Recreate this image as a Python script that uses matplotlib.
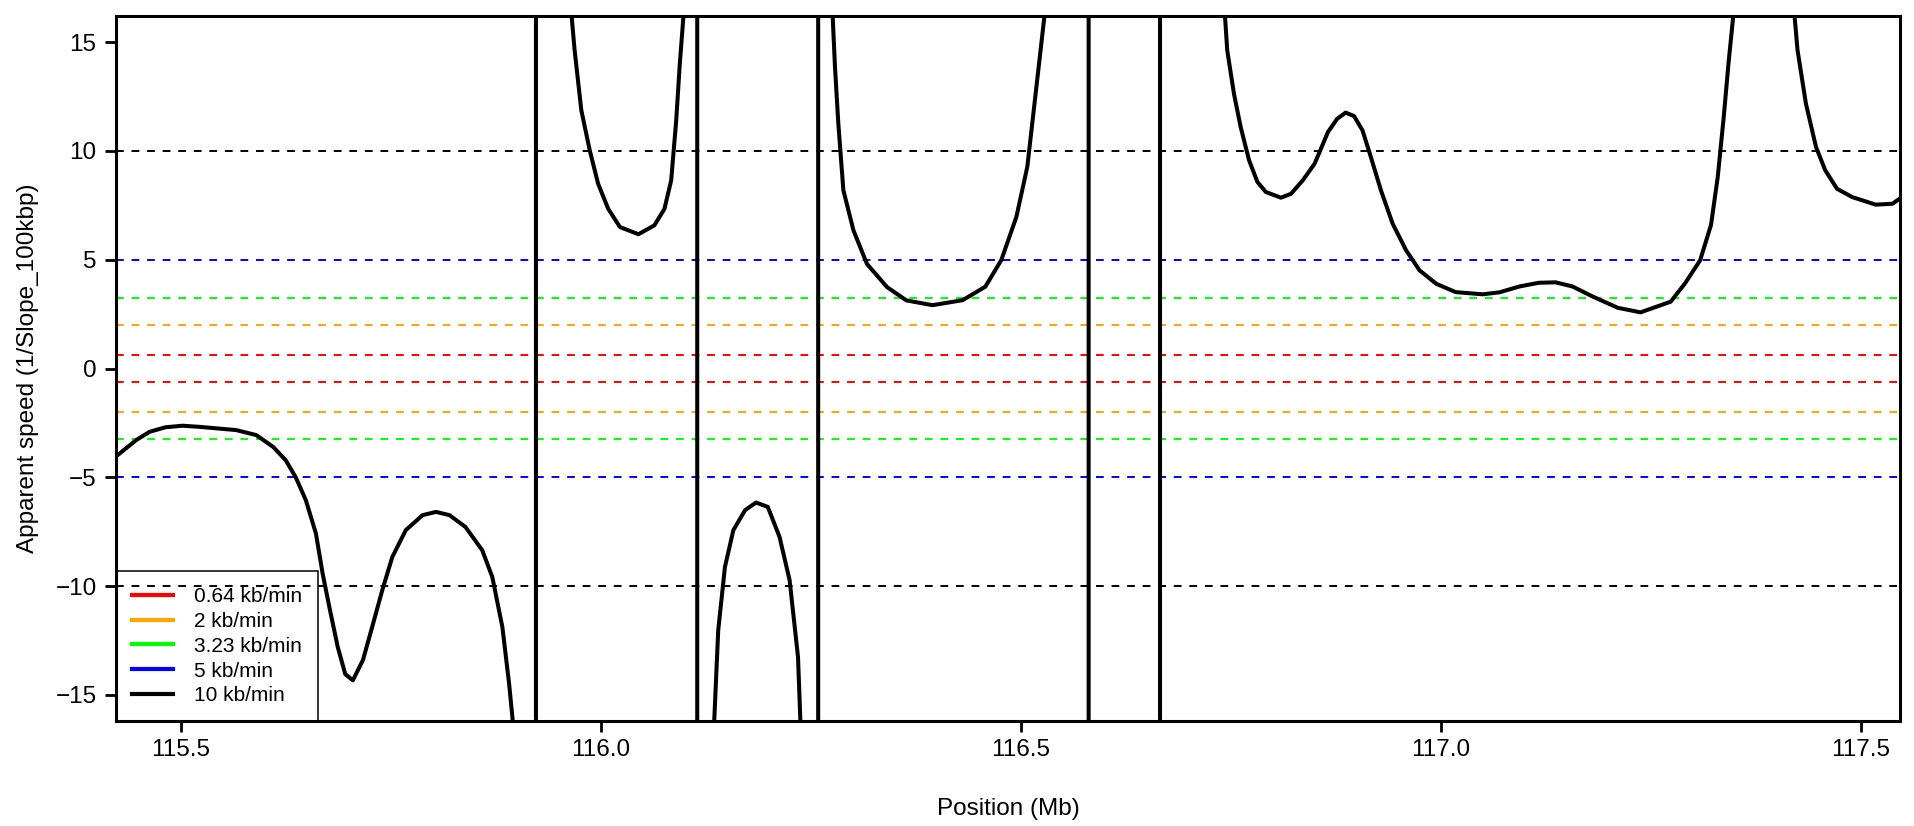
import numpy as np
import matplotlib
matplotlib.use("Agg")
import matplotlib.pyplot as plt

plt.rcParams["font.family"] = ["Liberation Sans", "DejaVu Sans"]

# reference speeds (kb/min) drawn as +/- dashed lines
speeds = [0.64, 2, 3.23, 5, 10]
speed_colors = ["#FF0000", "#FFA500", "#00FF00", "#0000FF", "#000000"]
speed_labels = ["0.64 kb/min", "2 kb/min", "3.23 kb/min", "5 kb/min", "10 kb/min"]

# apparent speed profile (values beyond the axis range are estimates of the off-scale trace)
position_mb = [
    115.425, 115.447, 115.463, 115.482, 115.502, 115.522, 115.542, 115.566, 115.590,
    115.610, 115.625, 115.637, 115.649, 115.661, 115.669, 115.677, 115.687, 115.696,
    115.705, 115.717, 115.728, 115.740, 115.752, 115.768, 115.788, 115.804, 115.820,
    115.839, 115.859, 115.871, 115.883, 115.891, 115.900, 115.910, 115.923,
    115.923, 115.940, 115.955, 115.965, 115.969, 115.977, 115.987, 115.997, 116.009,
    116.023, 116.045, 116.064, 116.076, 116.084, 116.090, 116.094, 116.099, 116.106, 116.115,
    116.115, 116.125, 116.135, 116.140, 116.148, 116.158, 116.172, 116.185, 116.199,
    116.213, 116.225, 116.235, 116.238, 116.248, 116.259,
    116.259, 116.268, 116.276, 116.279, 116.283, 116.289, 116.301, 116.317, 116.341,
    116.364, 116.395, 116.431, 116.458, 116.477, 116.495, 116.508, 116.517, 116.529,
    116.550, 116.581,
    116.581, 116.600, 116.624, 116.648, 116.666,
    116.666, 116.700, 116.728, 116.743, 116.746, 116.754, 116.762, 116.772, 116.782,
    116.792, 116.810, 116.822, 116.836, 116.850, 116.866, 116.877, 116.887, 116.897,
    116.907, 116.917, 116.929, 116.943, 116.959, 116.975, 116.995, 117.018, 117.050,
    117.070, 117.094, 117.117, 117.137, 117.157, 117.181, 117.211, 117.238, 117.274,
    117.291, 117.309, 117.322, 117.330, 117.337, 117.343, 117.349, 117.365, 117.385,
    117.405, 117.421, 117.425, 117.435, 117.447, 117.458, 117.472, 117.490, 117.518,
    117.538, 117.550,
]
apparent_speed = [
    -3.98, -3.29, -2.91, -2.70, -2.63, -2.68, -2.75, -2.83, -3.06,
    -3.60, -4.21, -5.00, -6.05, -7.58, -9.42, -10.96, -12.80, -14.05,
    -14.33, -13.40, -11.88, -10.19, -8.66, -7.43, -6.74, -6.59, -6.74,
    -7.28, -8.35, -9.58, -11.88, -14.48, -18.0, -28.0, -90.0,
    90.0, 30.0, 19.5, 16.4, 14.63, 11.87, 10.03, 8.49, 7.34,
    6.50, 6.17, 6.58, 7.34, 8.65, 11.41, 13.86, 16.4, 30.0, 90.0,
    -90.0, -35.0, -16.4, -12.03, -9.12, -7.43, -6.51, -6.16, -6.36,
    -7.74, -9.73, -13.26, -16.4, -35.0, -90.0,
    90.0, 35.0, 16.4, 13.86, 11.25, 8.19, 6.35, 4.81, 3.74,
    3.13, 2.91, 3.14, 3.76, 4.98, 6.97, 9.27, 12.34, 16.4,
    40.0, 90.0,
    -90.0, -35.0, -24.0, -35.0, -90.0,
    90.0, 35.0, 20.0, 16.4, 14.63, 12.63, 11.10, 9.57, 8.57,
    8.11, 7.85, 8.03, 8.65, 9.41, 10.87, 11.48, 11.76, 11.60,
    10.95, 9.72, 8.19, 6.65, 5.43, 4.51, 3.89, 3.51, 3.41,
    3.50, 3.77, 3.94, 3.96, 3.77, 3.31, 2.79, 2.58, 3.07,
    3.91, 4.97, 6.60, 8.80, 11.50, 14.10, 16.4, 25.0, 32.0,
    24.0, 16.4, 14.63, 12.17, 10.18, 9.11, 8.26, 7.88, 7.53,
    7.57, 7.90,
]

x_ticks = [115.5, 116.0, 116.5, 117.0, 117.5]
y_ticks = [-15, -10, -5, 0, 5, 10, 15]

W, H = 1914, 826
fig = plt.figure(figsize=(W / 100, H / 100), dpi=100)
ax = fig.add_axes([116 / W, 1 - 721 / H, (1900 - 116) / W, (721 - 16) / H])

for s, c, lab in zip(speeds, speed_colors, speed_labels):
    for sign in (1, -1):
        ax.axhline(sign * s, color=c, linewidth=1.4, linestyle=(0, (4, 4)), zorder=1)
    ax.plot([], [], color=c, linewidth=3, label=lab)

ax.plot(position_mb, apparent_speed, color="black", linewidth=2.9, zorder=3)

ax.set_xlim(115.423, 117.547)
ax.set_ylim(-16.2, 16.2)
ax.set_xticks(x_ticks)
ax.set_xticklabels([f"{t:.1f}" for t in x_ticks])
ax.set_yticks(y_ticks)
ax.tick_params(axis="both", direction="out", length=8, width=2, labelsize=17.5)
ax.tick_params(axis="x", pad=5)
ax.tick_params(axis="y", pad=6)
for sp in ax.spines.values():
    sp.set_linewidth(2.2)

ax.set_xlabel("Position (Mb)", fontsize=17.5)
ax.set_ylabel("Apparent speed (1/Slope_100kbp)", fontsize=17.5)
ax.xaxis.set_label_coords(0.5, -0.109)
ax.yaxis.set_label_coords(-0.043, 0.5)

leg = ax.legend(loc="lower left", bbox_to_anchor=(0, 0), borderaxespad=0,
                fontsize=15, frameon=True, fancybox=False, edgecolor="black",
                framealpha=1, handlelength=2.0, handletextpad=1.0,
                labelspacing=0.28, borderpad=0.75)
leg.get_frame().set_facecolor("none")
leg.get_frame().set_linewidth(1.1)
leg.set_zorder(2)

plt.savefig("out.png", dpi=100)
plt.close("all")
